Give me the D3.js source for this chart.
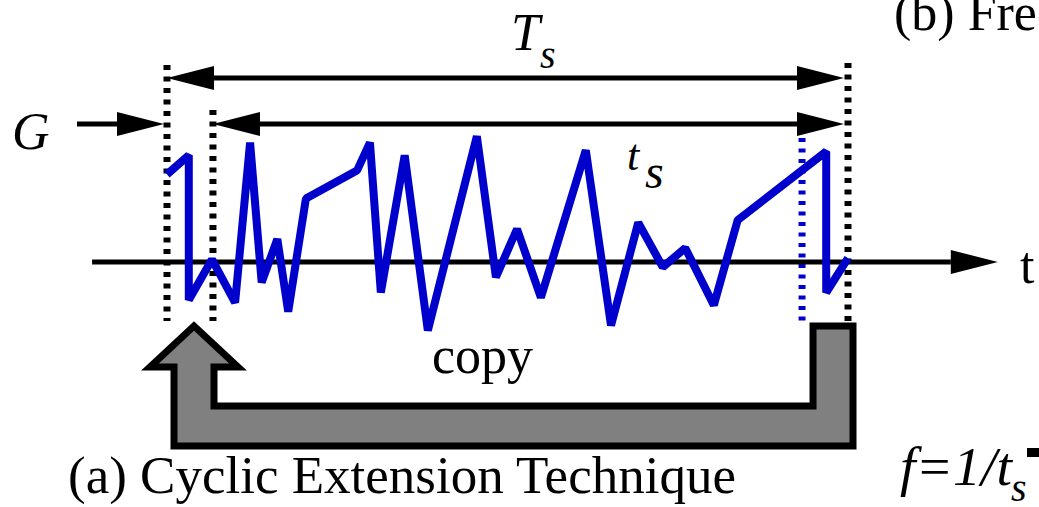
<!DOCTYPE html>
<html>
<head>
<meta charset="utf-8">
<script src="https://cdn.jsdelivr.net/npm/d3@7"></script>
<style>
    body { margin: 0; background: #fff; }
    svg { display: block; }
    text { font-family: "Liberation Serif", "Times New Roman", serif; fill: #000; }
</style>
</head>
<body>
<div class="chart"></div>
<script>
//The OFDM symbol, sampled. Time is % of the full symbol T_s, amplitude is normalised.
let sampleTime = [0, 3.2, 3.2, 6.6, 10.0, 12.2, 13.9, 16.2, 17.8, 20.4, 27.9, 29.8, 31.4, 34.9, 38.3,
    45.5, 48.3, 51.4, 54.9, 61.5, 65.2, 69.2, 72.8, 76.1, 80.3, 83.8, 96.8, 96.8, 100];
let sampleAmp = [0.69, 0.84, -0.30, 0.02, -0.32, 0.94, -0.16, 0.18, -0.39, 0.50, 0.72, 0.94, -0.24, 0.84, -0.54,
    0.99, -0.12, 0.26, -0.28, 0.88, -0.50, 0.31, -0.04, 0.11, -0.34, 0.33, 0.87, -0.24, 0.03];

//where the guard interval ends and where the copied tail starts
let guardEnd = 6.75;
let copyStart = 93.25;

let chart = {};

init();

function init() {
    chart.data = sampleTime.map((t, i) => ({ t: t, a: sampleAmp[i] }));
    setDimensions();
    setScales();
    appendElements();
    drawElements();
}

function setDimensions() {
    chart.width = 1039;
    chart.height = 507;
}

function setScales() {
    chart.xScale = d3.scaleLinear()
        .domain([0, 100])
        .range([167, 848]);

    chart.yScale = d3.scaleLinear()
        .domain([-1, 1])
        .range([389, 135]);
}

function appendElements() {
    chart.svg = d3.select(".chart").append("svg")
        .attr("width", chart.width)
        .attr("height", chart.height);

    chart.copyG = chart.svg.append("g").attr("class", "copy-arrow");
    chart.guides = chart.svg.append("g").attr("class", "guides");
    chart.arrows = chart.svg.append("g").attr("class", "arrows");
    chart.wave = chart.svg.append("g").attr("class", "wave");
    chart.labels = chart.svg.append("g").attr("class", "labels");
}

//horizontal arrow with filled triangle heads
function hArrow(g, x1, x2, y, left, right) {
    let len = 47, half = 12;
    let a = left ? x1 + len : x1;
    let b = right ? x2 - len : x2;
    g.append("line")
        .attr("x1", a).attr("x2", b)
        .attr("y1", y).attr("y2", y)
        .attr("stroke", "#000").attr("stroke-width", 5);
    if (left) {
        g.append("path")
            .attr("d", `M${x1},${y}L${x1 + len},${y - half}L${x1 + len},${y + half}Z`)
            .attr("fill", "#000");
    }
    if (right) {
        g.append("path")
            .attr("d", `M${x2},${y}L${x2 - len},${y - half}L${x2 - len},${y + half}Z`)
            .attr("fill", "#000");
    }
}

function drawElements() {
    let x = chart.xScale, y = chart.yScale;

    //the grey "copy" arrow going from the tail back to the front
    let l = x(0), r = x(100);
    let c = x(copyStart);
    let shaft = [l + 7, l + 47];
    let tipX = (shaft[0] + shaft[1]) / 2;
    let top = 326, headY = 367, inner = 406, bottom = 446;
    let pts = [
        [tipX, top], [tipX + 44, headY], [shaft[1], headY], [shaft[1], inner],
        [c + 11, inner], [c + 11, top], [r + 5, top], [r + 5, bottom],
        [shaft[0], bottom], [shaft[0], headY], [tipX - 44, headY]
    ];
    chart.copyG.append("path")
        .attr("d", d3.line()(pts) + "Z")
        .attr("fill", "#808080")
        .attr("stroke", "#000")
        .attr("stroke-width", 7)
        .attr("stroke-linejoin", "miter");

    //dotted boundaries
    let guides = [
        { t: 0, top: 65, color: "#000" },
        { t: guardEnd, top: 110, color: "#000" },
        { t: 100, top: 63, color: "#000" },
        { t: copyStart, top: 138, color: "#0000cc" }
    ];
    chart.guides.selectAll("line")
        .data(guides)
        .enter().append("line")
        .attr("x1", d => x(d.t)).attr("x2", d => x(d.t))
        .attr("y1", d => d.top).attr("y2", 321)
        .attr("stroke", d => d.color)
        .attr("stroke-width", 7)
        .attr("stroke-dasharray", d => d.color === "#000" ? "5,6.5" : "4,6.5");

    //time axis
    hArrow(chart.arrows, x(-11), x(122), y(0), false, true);

    //T_s, t_s and G arrows
    hArrow(chart.arrows, x(0), x(100) - 4, 78, true, true);
    hArrow(chart.arrows, x(guardEnd), x(100) - 4, 124, true, true);
    hArrow(chart.arrows, 77, x(0) - 3, 124, false, true);

    //the signal
    chart.wave.append("path")
        .datum(chart.data)
        .attr("d", d3.line().x(d => x(d.t)).y(d => y(d.a)))
        .attr("fill", "none")
        .attr("stroke", "#0000cc")
        .attr("stroke-width", 8)
        .attr("stroke-linejoin", "bevel");

    //text
    let lab = chart.labels;
    lab.append("text").attr("x", 511).attr("y", 50).attr("font-size", 52).attr("font-style", "italic").text("T");
    lab.append("text").attr("x", 540).attr("y", 68).attr("font-size", 40).attr("font-style", "italic").text("s");
    lab.append("text").attr("x", 627).attr("y", 170).attr("font-size", 44).attr("font-style", "italic").text("t");
    lab.append("text").attr("x", 645).attr("y", 188).attr("font-size", 48).attr("font-style", "italic").text("s");
    lab.append("text").attr("x", 12).attr("y", 149).attr("font-size", 52).attr("font-style", "italic").text("G");
    lab.append("text").attr("x", 1020).attr("y", 283).attr("font-size", 52).text("t");
    lab.append("text").attr("x", 432).attr("y", 373).attr("font-size", 52).text("copy");
    lab.append("text").attr("x", 68).attr("y", 493).attr("font-size", 53).text("(a) Cyclic Extension Technique");
    lab.append("text").attr("x", 894).attr("y", 30).attr("font-size", 52).text("(b) Frequency");
    lab.append("text").attr("x", 900).attr("y", 485).attr("font-size", 54).attr("font-style", "italic")
        .attr("textLength", 112).attr("lengthAdjust", "spacingAndGlyphs").text("f=1/t");
    lab.append("text").attr("x", 1011).attr("y", 501).attr("font-size", 40).attr("font-style", "italic").text("s");
    lab.append("rect").attr("x", 1027).attr("y", 448).attr("width", 12).attr("height", 9).attr("fill", "#000");
}
</script>
</body>
</html>
